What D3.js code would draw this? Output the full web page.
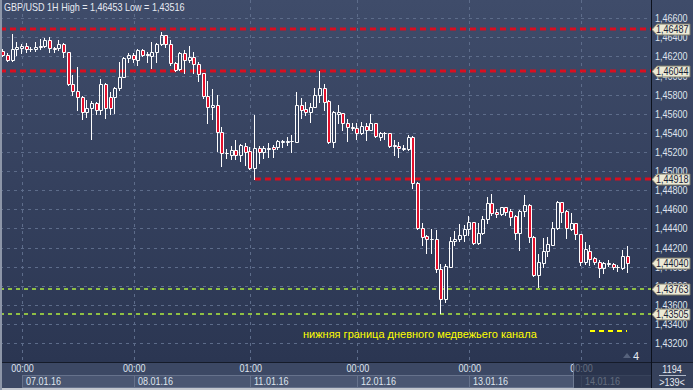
<!DOCTYPE html>
<html>
<head>
<meta charset="utf-8">
<script src="https://cdn.jsdelivr.net/npm/d3@7"></script>
<style>
  body { margin: 0; background: #2d3954; }
  svg { display: block; }
  text { font-family: "Liberation Sans", Arial, sans-serif; }
</style>
</head>
<body>
<svg id="chart" width="693" height="390"></svg>
<script>
const symbol = "GBP/USD";
const period = "1H";

// hourly candles, 06.01.16 20:00 .. 14.01.16 10:00
const open = [
  1.46260, 1.46215, 1.46163, 1.46274, 1.46288, 1.46309, 1.46274, 1.46274, 1.46302, 1.46309,
  1.46372, 1.46285, 1.46285, 1.46330, 1.46250, 1.45911, 1.45838, 1.45772, 1.45622, 1.45657,
  1.45709, 1.45639, 1.45911, 1.45772, 1.45772, 1.45866, 1.45988, 1.46180, 1.46215, 1.46163,
  1.46267, 1.46211, 1.46204, 1.46243, 1.46330, 1.46424, 1.46330, 1.46128, 1.46065, 1.46239,
  1.46163, 1.46191, 1.46121, 1.46023, 1.45786, 1.45667, 1.45692, 1.45413, 1.45186, 1.45169,
  1.45221, 1.45169, 1.45263, 1.45210, 1.45029, 1.45238, 1.45203, 1.45228, 1.45249, 1.45249,
  1.45301, 1.45308, 1.45315, 1.45308, 1.45692, 1.45646, 1.45622, 1.45667, 1.45796, 1.45866,
  1.45734, 1.45308, 1.45598, 1.45605, 1.45500, 1.45458, 1.45448, 1.45402, 1.45472, 1.45430,
  1.45500, 1.45360, 1.45402, 1.45395, 1.45273, 1.45263, 1.45228, 1.45228, 1.45353, 1.44879,
  1.44401, 1.44321, 1.44293, 1.44286, 1.43972, 1.43658, 1.44000, 1.44269, 1.44286, 1.44328,
  1.44391, 1.44467, 1.44244, 1.44349, 1.44495, 1.44663, 1.44572, 1.44548, 1.44621, 1.44583,
  1.44530, 1.44349, 1.44579, 1.44642, 1.44314, 1.43913, 1.44042, 1.44160, 1.44230, 1.44401,
  1.44673, 1.44583, 1.44398, 1.44454, 1.44338, 1.44052, 1.44160, 1.44087, 1.44052, 1.43983,
  1.44024, 1.44024, 1.44000, 1.43983, 1.44112
];
const high = [
  1.46274, 1.46232, 1.46435, 1.46354, 1.46330, 1.46337, 1.46295, 1.46354, 1.46379, 1.46389,
  1.46400, 1.46302, 1.46372, 1.46337, 1.46250, 1.46006, 1.46093, 1.45786, 1.45744, 1.45737,
  1.45727, 1.45960, 1.45925, 1.45831, 1.45884, 1.46145, 1.46198, 1.46239, 1.46232, 1.46274,
  1.46274, 1.46250, 1.46354, 1.46344, 1.46453, 1.46424, 1.46372, 1.46145, 1.46250, 1.46267,
  1.46309, 1.46250, 1.46145, 1.46023, 1.45943, 1.45856, 1.45796, 1.45458, 1.45228, 1.45263,
  1.45326, 1.45284, 1.45291, 1.45256, 1.45587, 1.45263, 1.45263, 1.45291, 1.45273, 1.45326,
  1.45326, 1.45360, 1.45378, 1.45831, 1.45762, 1.45727, 1.45716, 1.45866, 1.46051, 1.45911,
  1.45744, 1.45632, 1.45692, 1.45612, 1.45542, 1.45507, 1.45500, 1.45517, 1.45507, 1.45594,
  1.45507, 1.45413, 1.45409, 1.45402, 1.45326, 1.45308, 1.45273, 1.45378, 1.45367, 1.44890,
  1.44460, 1.44331, 1.44391, 1.44384, 1.44028, 1.44028, 1.44314, 1.44373, 1.44447, 1.44436,
  1.44530, 1.44467, 1.44454, 1.44530, 1.44725, 1.44760, 1.44604, 1.44628, 1.44628, 1.44600,
  1.44541, 1.44593, 1.44750, 1.44652, 1.44321, 1.44132, 1.44297, 1.44307, 1.44471, 1.44691,
  1.44680, 1.44590, 1.44565, 1.44460, 1.44342, 1.44258, 1.44230, 1.44105, 1.44066, 1.44052,
  1.44070, 1.44042, 1.44018, 1.44174, 1.44216
];
const low = [
  1.46204, 1.46156, 1.46156, 1.46215, 1.46232, 1.46250, 1.46260, 1.46260, 1.46274, 1.46302,
  1.46250, 1.46250, 1.46267, 1.46198, 1.45901, 1.45796, 1.45639, 1.45542, 1.45570, 1.45332,
  1.45598, 1.45598, 1.45552, 1.45598, 1.45605, 1.45849, 1.45981, 1.46145, 1.46145, 1.46110,
  1.46204, 1.46145, 1.46075, 1.46145, 1.46320, 1.46302, 1.46110, 1.46051, 1.46058, 1.46023,
  1.46145, 1.46023, 1.45946, 1.45762, 1.45500, 1.45542, 1.45214, 1.45053, 1.45134, 1.45123,
  1.45123, 1.45109, 1.45064, 1.45018, 1.44914, 1.45088, 1.45134, 1.45151, 1.45144, 1.45228,
  1.45249, 1.45273, 1.45203, 1.45308, 1.45552, 1.45587, 1.45517, 1.45667, 1.45727, 1.45639,
  1.45298, 1.45249, 1.45500, 1.45430, 1.45319, 1.45430, 1.45332, 1.45388, 1.45326, 1.45430,
  1.45360, 1.45326, 1.45332, 1.45249, 1.45169, 1.45151, 1.45221, 1.45221, 1.44820, 1.44391,
  1.44227, 1.44139, 1.44146, 1.43948, 1.43516, 1.43634, 1.44000, 1.44227, 1.44272, 1.44272,
  1.44331, 1.44237, 1.44237, 1.44342, 1.44460, 1.44541, 1.44516, 1.44541, 1.44541, 1.44436,
  1.44286, 1.44174, 1.44530, 1.44255, 1.43902, 1.43791, 1.43993, 1.44112, 1.44227, 1.44394,
  1.44471, 1.44300, 1.44384, 1.44290, 1.44014, 1.44028, 1.44018, 1.44028, 1.43895, 1.43930,
  1.44007, 1.43972, 1.43958, 1.43972, 1.43948
];
const close = [
  1.46215, 1.46163, 1.46274, 1.46295, 1.46309, 1.46274, 1.46278, 1.46302, 1.46309, 1.46372,
  1.46285, 1.46274, 1.46330, 1.46250, 1.45911, 1.45838, 1.45772, 1.45622, 1.45657, 1.45709,
  1.45639, 1.45911, 1.45657, 1.45657, 1.45866, 1.45988, 1.46180, 1.46215, 1.46170, 1.46267,
  1.46215, 1.46222, 1.46243, 1.46330, 1.46424, 1.46330, 1.46128, 1.46058, 1.46239, 1.46163,
  1.46191, 1.46121, 1.46016, 1.45786, 1.45667, 1.45692, 1.45413, 1.45186, 1.45193, 1.45221,
  1.45169, 1.45273, 1.45203, 1.45029, 1.45238, 1.45203, 1.45238, 1.45245, 1.45228, 1.45315,
  1.45315, 1.45315, 1.45312, 1.45692, 1.45639, 1.45622, 1.45667, 1.45796, 1.45866, 1.45727,
  1.45308, 1.45622, 1.45615, 1.45500, 1.45458, 1.45448, 1.45402, 1.45472, 1.45430, 1.45500,
  1.45367, 1.45402, 1.45400, 1.45263, 1.45263, 1.45238, 1.45238, 1.45353, 1.44879, 1.44401,
  1.44314, 1.44286, 1.44286, 1.43972, 1.43658, 1.44007, 1.44269, 1.44286, 1.44328, 1.44398,
  1.44467, 1.44244, 1.44349, 1.44502, 1.44663, 1.44565, 1.44551, 1.44621, 1.44576, 1.44523,
  1.44349, 1.44579, 1.44642, 1.44307, 1.43913, 1.44049, 1.44160, 1.44234, 1.44401, 1.44673,
  1.44576, 1.44401, 1.44454, 1.44338, 1.44052, 1.44181, 1.44084, 1.44052, 1.43983, 1.44035,
  1.44035, 1.43993, 1.43993, 1.44115, 1.44040
];

const priceTicks = d3.range(18).map(i => +(1.432 + i * 0.002).toFixed(3));
const timeTickIdx = [4, 28, 53, 76, 100, 124];
const timeTickLabels = ["00:00", "00:00", "01:00", "00:00", "00:00", "00:00"];
const dateTickLabels = ["07.01.16", "08.01.16", "11.01.16", "12.01.16", "13.01.16", "14.01.16"];
const resistLevels = [1.46487, 1.46044, 1.44918];
const resistFrom = [null, null, 54];      // candle the line starts from (null = left edge)
const supportLevels = [1.43763, 1.43505];
const noteText = "нижняя граница дневного медвежьего канала";
const barsTotal = 1194, barsShown = 139, shiftMark = 4;

const W = 693, H = 390, plotR = 651, plotB = 362;
const svg = d3.select("#chart");

const x = d3.scaleLinear().domain([4, 124]).range([22, 581]);
const y = d3.scaleLinear().domain([1.432, 1.466]).range([343.1, 18.2]);
const fmt = v => d3.format(".5f")(v).replace(".", ",");

// squeeze text horizontally, terminal font is a narrow one
function narrow(sel) {
  sel.each(function () {
    const w = this.getComputedTextLength();
    d3.select(this).attr("textLength", (w * 0.82).toFixed(1)).attr("lengthAdjust", "spacingAndGlyphs");
  });
}

// background
const defs = svg.append("defs");
const grad = defs.append("linearGradient").attr("id", "bg").attr("x1", 0).attr("y1", 0).attr("x2", 0).attr("y2", 1);
grad.append("stop").attr("offset", 0).attr("stop-color", "#3f4c6a");
grad.append("stop").attr("offset", 1).attr("stop-color", "#2b3652");
svg.append("rect").attr("width", W).attr("height", plotB).attr("fill", "url(#bg)");

// grid
svg.append("g").selectAll("line").data(priceTicks).join("line")
  .attr("x1", 0).attr("x2", plotR)
  .attr("y1", d => Math.round(y(d)) + 0.5).attr("y2", d => Math.round(y(d)) + 0.5)
  .attr("stroke", "#5d6c8a").attr("stroke-dasharray", "3,4");
svg.append("g").selectAll("line").data(timeTickIdx).join("line")
  .attr("x1", d => Math.round(x(d)) + 0.5).attr("x2", d => Math.round(x(d)) + 0.5)
  .attr("y1", 0).attr("y2", plotB)
  .attr("stroke", "#5d6c8a").attr("stroke-dasharray", "3,4");

// level lines
svg.append("g").selectAll("line").data(resistLevels).join("line")
  .attr("x1", (d, i) => resistFrom[i] == null ? 0 : x(resistFrom[i]))
  .attr("x2", plotR)
  .attr("y1", d => Math.round(y(d))).attr("y2", d => Math.round(y(d)))
  .attr("stroke", "#d80f20").attr("stroke-width", 2.8).attr("stroke-dasharray", "6,4");
svg.append("g").selectAll("line").data(supportLevels).join("line")
  .attr("x1", 0).attr("x2", plotR)
  .attr("y1", d => Math.round(y(d))).attr("y2", d => Math.round(y(d)))
  .attr("stroke", "#8fbf45").attr("stroke-width", 2.2).attr("stroke-dasharray", "4,4");

// candles
const idx = d3.range(open.length);
const cg = svg.append("g");
idx.forEach(i => {
  const cx = Math.round(x(i));
  const top = Math.round(y(Math.max(open[i], close[i]))) + 0.5;
  const bot = Math.round(y(Math.min(open[i], close[i]))) + 0.5;
  const hi = Math.round(y(high[i])) + 0.5;
  const lo = Math.round(y(low[i])) + 0.5;
  const wx = cx - 0.5;
  cg.append("line").attr("x1", wx).attr("x2", wx).attr("y1", hi - 0.5).attr("y2", top)
    .attr("stroke", "#ffffff");
  cg.append("line").attr("x1", wx).attr("x2", wx).attr("y1", bot).attr("y2", lo + 0.5)
    .attr("stroke", "#ffffff");
  const bear = close[i] < open[i];
  cg.append("path")
    .attr("d", `M${cx - 1.5},${top}H${cx + 1.5}V${bot}H${cx - 1.5}Z`)
    .attr("fill", bear ? "#e3102c" : "none")
    .attr("stroke", "#ffffff").attr("stroke-width", 1);
});

// yellow note
svg.append("text").attr("x", 303).attr("y", 338)
  .attr("font-size", 11).attr("fill", "#ffff00").text(noteText);
svg.append("line").attr("x1", 590).attr("x2", 627).attr("y1", 331).attr("y2", 331)
  .attr("stroke", "#ffff00").attr("stroke-width", 2).attr("stroke-dasharray", "5,4");

// title
svg.append("text").attr("x", 4).attr("y", 11).attr("font-size", 11).attr("fill", "#e6eaf2")
  .text(`${symbol} ${period} High = ${fmt(d3.max(high))} Low = ${fmt(d3.min(low))}`)
  .call(narrow);

// shift marker
svg.append("path").attr("d", "M623,358L627,353L631,358Z").attr("fill", "#56627c");
svg.append("text").attr("x", 633).attr("y", 360).attr("font-size", 11).attr("fill", "#e6eaf2").text(shiftMark);

// price axis
const yAxis = svg.append("g").attr("transform", `translate(${plotR},0)`)
  .call(d3.axisRight(y).tickValues(priceTicks).tickSize(0).tickPadding(4).tickFormat(fmt));
yAxis.select(".domain").remove();
yAxis.selectAll("text").attr("font-size", 11).attr("fill", "#dfe4ee").style("font-family", null).call(narrow);

// price tags
const tags = resistLevels.concat(supportLevels, [close[close.length - 1]]);
const tg = svg.append("g").selectAll("g").data(tags).join("g")
  .attr("transform", d => `translate(${plotR},${Math.round(y(d)) + 0.5})`);
tg.append("path").attr("d", "M1,0L6,-5.5H39V5.5H6Z")
  .attr("fill", "#ecead6").attr("stroke", "#7d7b6a").attr("stroke-width", 1);
tg.append("text").attr("x", 5).attr("dy", "0.36em").attr("font-size", 11)
  .attr("fill", "#1a2238").text(fmt).call(narrow);

// frame line
svg.append("line").attr("x1", plotR + 0.5).attr("x2", plotR + 0.5).attr("y1", 0).attr("y2", H)
  .attr("stroke", "#0c111c");

// time axis band
svg.append("rect").attr("y", plotB).attr("width", W).attr("height", H - plotB).attr("fill", "#3c4864");
svg.append("line").attr("x1", 0).attr("x2", W).attr("y1", plotB + 0.5).attr("y2", plotB + 0.5).attr("stroke", "#151b29");
svg.append("g").selectAll("rect").data(timeTickIdx).join("rect")
  .attr("x", d => Math.round(x(d)) + 0.5)
  .attr("y", 375.5)
  .attr("width", (d, i) => (i < timeTickIdx.length - 1 ? Math.round(x(timeTickIdx[i + 1])) : plotR) - Math.round(x(d)))
  .attr("height", 12)
  .attr("fill", "#4a5672").attr("stroke", "#66728c");

const xAxis = svg.append("g").attr("transform", `translate(0,${plotB})`)
  .call(d3.axisBottom(x).tickValues(timeTickIdx).tickSize(0).tickPadding(2)
    .tickFormat((d, i) => timeTickLabels[i]));
xAxis.select(".domain").remove();
xAxis.selectAll("text").attr("font-size", 11).attr("fill", "#dfe4ee").style("font-family", null).call(narrow);

svg.append("g").selectAll("text").data(timeTickIdx).join("text")
  .attr("x", d => Math.round(x(d)) + 4).attr("y", 385)
  .attr("font-size", 11).attr("fill", "#dfe4ee")
  .text((d, i) => dateTickLabels[i]).call(narrow);

// shaded shift area on the time axis
svg.append("rect").attr("x", 573).attr("y", plotB + 1).attr("width", plotR - 573).attr("height", 26)
  .attr("fill", "#202a40").attr("opacity", 0.65);
svg.append("line").attr("x1", 573.5).attr("x2", 573.5).attr("y1", plotB + 1).attr("y2", 388)
  .attr("stroke", "#6f7b93");

// bottom-right info box
svg.append("rect").attr("x", plotR + 1).attr("y", plotB + 1).attr("width", W - plotR - 1).attr("height", 26)
  .attr("fill", "#36415b");
svg.append("text").attr("x", 672).attr("y", 373).attr("text-anchor", "middle").attr("font-size", 11)
  .attr("fill", "#e6eaf2").text(barsTotal).call(narrow);
svg.append("line").attr("x1", 659).attr("x2", 686).attr("y1", 375.5).attr("y2", 375.5).attr("stroke", "#aeb6c6");
svg.append("text").attr("x", 672).attr("y", 386).attr("text-anchor", "middle").attr("font-size", 11)
  .attr("fill", "#e6eaf2").text(`>${barsShown}<`).call(narrow);

svg.append("line").attr("x1", plotR + 0.5).attr("x2", plotR + 0.5).attr("y1", plotB).attr("y2", H)
  .attr("stroke", "#0c111c");
// outer border
svg.append("rect").attr("y", 388).attr("width", W).attr("height", 2).attr("fill", "#c3c7cf");
svg.append("rect").attr("x", 0).attr("width", 2).attr("height", H).attr("fill", "#8d96a8");
</script>
</body>
</html>
